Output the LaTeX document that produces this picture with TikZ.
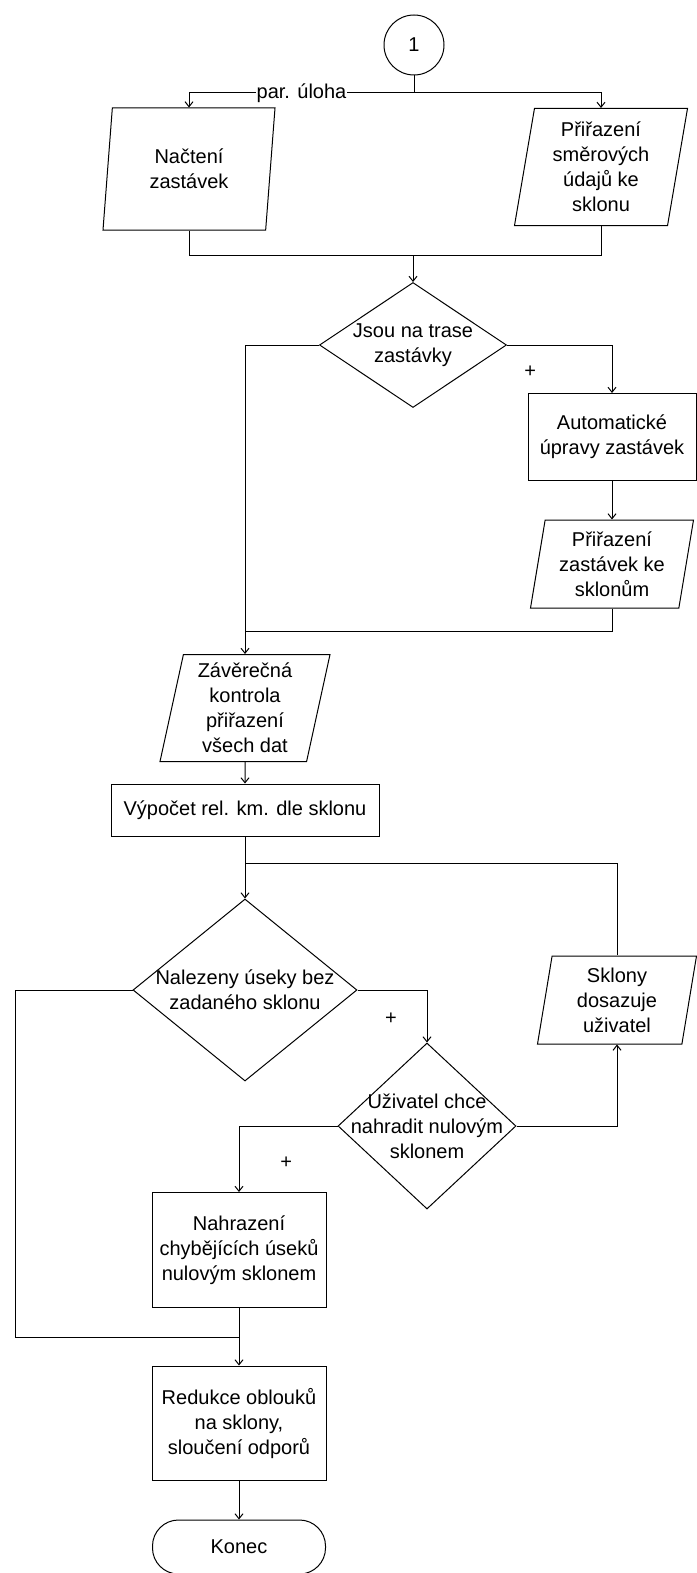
\documentclass[tikz,border=0pt]{standalone}
\usepackage{fontspec}
\setmainfont{Liberation Sans}
\usepackage{tikz}
\usetikzlibrary{arrows,arrows.meta,calc,shapes.geometric}

\begin{document}
\begin{tikzpicture}[x=1pt,y=-1pt,line width=1pt,>={Straight Barb[length=5pt,width=8pt]},
font=\fontsize{20}{25}\selectfont,
every node/.style={align=center},
proces/.style={draw,rectangle,inner sep=3pt},
vstup/.style={draw,trapezium,trapezium left angle=78,trapezium right angle=102,trapezium stretches body,inner sep=2pt},
rozhod/.style={draw,diamond,inner sep=0pt},
konektor/.style={draw,circle,minimum size=60},
koncovka/.style={draw,rectangle,rounded corners=26}]
\useasboundingbox (0,0) rectangle (696,1573);
\node[konektor] (start) at (414,45) {1};
\coordinate (rozdel) at (414,93);
\node[vstup,minimum width=172,minimum height=122] (nacteni) at (189,169) {Načtení\\zastávek};
\node[vstup,minimum width=173,minimum height=117] (prirsmer) at (601,167) {Přiřazení\\směrových\\údajů ke\\sklonu};
\coordinate (spoj1) at (413,255);
\node[rozhod,minimum width=187,minimum height=125,label={center:Jsou na trase\\zastávky}] (jsou) at (413,345) {};
\node[proces,minimum width=168,minimum height=87] (auto) at (612,437) {Automatické\\úpravy zastávek};
\node[vstup,minimum width=163,minimum height=88] (prirzast) at (612,564) {Přiřazení\\zastávek ke\\sklonům};
\coordinate (spoj2) at (245,631);
\node[vstup,trapezium left angle=76,trapezium right angle=104,minimum width=170,minimum height=107] (zaver) at (245,708) {Závěrečná\\kontrola\\přiřazení\\všech dat};
\node[proces,minimum width=268,minimum height=52] (vypocet) at (245,810) {Výpočet rel. km. dle sklonu};
\coordinate (spoj3) at (245,863);
\node[rozhod,minimum width=224,minimum height=182,label={center:Nalezeny úseky bez\\zadaného sklonu}] (nalez) at (245,990) {};
\node[rozhod,minimum width=178,minimum height=166,label={center:Uživatel chce\\nahradit nulovým\\sklonem}] (chce) at (427,1126) {};
\node[vstup,minimum width=159,minimum height=88] (dosaz) at (617,1000) {Sklony\\dosazuje\\uživatel};
\node[proces,minimum width=174,minimum height=115] (nahraz) at (239,1250) {Nahrazení\\chybějících úseků\\nulovým sklonem};
\coordinate (spoj4) at (239,1337);
\coordinate (vlevo) at (15,1337);
\node[proces,minimum width=174,minimum height=114] (redukce) at (239,1423) {Redukce oblouků\\na sklony,\\sloučení odporů};
\node[koncovka,minimum width=173,minimum height=54] (konec) at (239,1547) {Konec};

\draw (start) -- (rozdel);
\draw[->] (rozdel) -| node[pos=0.25,fill=white,inner sep=1pt] {par. úloha} (nacteni.north);
\draw[->] (rozdel) -| (prirsmer.north);
\draw (nacteni.south) |- (spoj1);
\draw (prirsmer.south) |- (spoj1);
\draw[->] (spoj1) -- (jsou);
\draw[->] (jsou.east) -| node[pos=0.11,below=17pt] {+} (auto.north);
\draw[->] (auto) -- (prirzast);
\draw (prirzast.south) |- (spoj2);
\draw[->] (jsou.west) -| (zaver.north);
\draw[->] (zaver) -- (vypocet);
\draw[->] (vypocet) -- (nalez);
\draw (dosaz.north) |- (spoj3);
\draw[->] (nalez.east) -| node[pos=0.24,below=19pt] {+} (chce.north);
\draw[->] (chce.east) -| (dosaz.south);
\draw[->] (chce.west) -| node[pos=0.26,below=27pt] {+} (nahraz.north);
\draw (nalez.west) -| (vlevo) -- (spoj4);
\draw[->] (nahraz) -- (redukce);
\draw[->] (redukce) -- (konec);
\end{tikzpicture}
\end{document}
